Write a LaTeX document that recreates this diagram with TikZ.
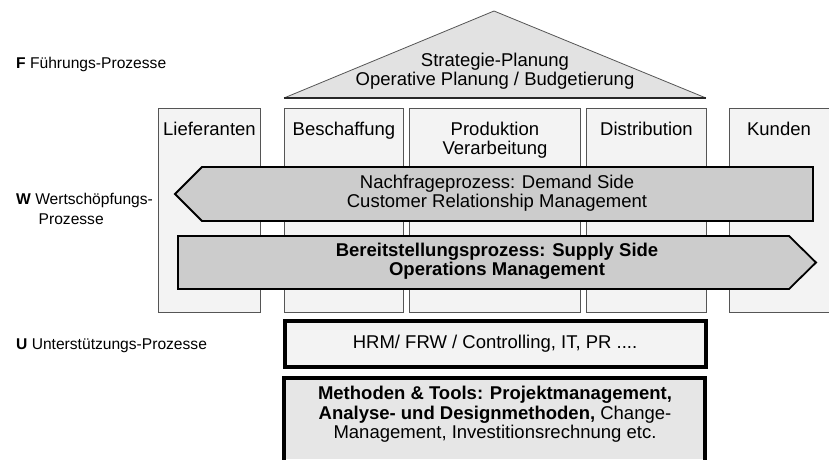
\documentclass[tikz,border=0pt]{standalone}
\usepackage{fontspec}
\setmainfont{Liberation Sans}
\usetikzlibrary{positioning}
\definecolor{roofgray}{RGB}{226,226,226}
\definecolor{colgray}{RGB}{243,243,243}
\definecolor{boxgray}{RGB}{230,230,230}
\definecolor{arrowgray}{RGB}{204,204,204}
\definecolor{edgegray}{RGB}{85,85,85}
\tikzstyle{column}=[draw=edgegray,fill=colgray,line width=0.9pt,anchor=north west,inner sep=0pt]
\tikzstyle{collabel}=[inner sep=0pt,align=center,font=\fontsize{18.5}{19}\selectfont]
\tikzstyle{maintext}=[inner sep=0pt,align=center,font=\fontsize{18.5}{19}\selectfont]
\tikzstyle{sidetext}=[inner sep=0pt,anchor=base west,align=left,font=\fontsize{15.6}{20}\selectfont]
\tikzstyle{process}=[draw=black,line width=1.8pt,fill=arrowgray,line join=miter]

\begin{document}
\begin{tikzpicture}[x=1pt,y=-1pt]
  \useasboundingbox (0,0) rectangle (829,459);

  % roof
  \draw[edgegray,line width=0.8pt,fill=roofgray] (284,98) -- (494,11) -- (706,98);
  \draw[black!85,line width=1.6pt] (284,98) -- (706,98);
  \node[maintext] (roof) at (495,71.5) {Strategie-Planung\\Operative Planung / Budgetierung};

  % columns
  \node[column,minimum width=102pt,minimum height=204pt] (lief) at (158,108) {};
  \node[column,minimum width=119pt,minimum height=204pt] (besch) at (284,108) {};
  \node[column,minimum width=171pt,minimum height=204pt] (prod) at (409,108) {};
  \node[column,minimum width=120pt,minimum height=204pt] (dist) at (586,108) {};
  \fill[colgray] (729,108) rectangle (829,312);
  \draw[edgegray,line width=0.9pt] (829,108) -- (729,108) -- (729,312) -- (829,312);
  \coordinate (kund) at (779,108);

  \node[collabel,below=14pt of lief.north,anchor=north] (lieflabel) {Lieferanten};
  \node[collabel,below=14pt of besch.north,anchor=north] (beschlabel) {Beschaffung};
  \node[collabel,below=14pt of prod.north,anchor=north] (prodlabel) {Produktion\\Verarbeitung};
  \node[collabel,below=14pt of dist.north,anchor=north] (distlabel) {Distribution};
  \node[collabel,below=14pt of kund,anchor=north] (kundlabel) {Kunden};

  % demand side
  \draw[process] (813,167) -- (202,167) -- (175,194) -- (202,221) -- (813,221) -- cycle;
  \node[maintext] (demand) at (497,193.5) {Nachfrageprozess: Demand Side\\Customer Relationship Management};

  % supply side
  \draw[process] (178,236) -- (789,236) -- (816,262.5) -- (789,289) -- (178,289) -- cycle;
  \node[maintext,font=\fontsize{18.5}{19}\selectfont\bfseries] (supply) at (497,261.5) {Bereitstellungsprozess: Supply Side\\Operations Management};

  % support
  \draw[black,line width=4pt,fill=colgray] (285,321) rectangle (705.5,366.5);
  \node[maintext] (hrm) at (495,343.5) {HRM/ FRW / Controlling, IT, PR ....};

  \fill[boxgray] (284,378) rectangle (705,459);
  \draw[black,line width=3.5pt] (284,461) -- (284,378) -- (705,378) -- (705,461);
  \node[maintext,font=\fontsize{18.5}{19.5}\selectfont] (tools) at (495,414.5) {\textbf{Methoden \& Tools: Projektmanagement,}\\\textbf{Analyse- und Designmethoden,} Change-\\Management, Investitionsrechnung etc.};

  % process labels
  \node[sidetext] (fp) at (16,68) {\textbf{F} Führungs-Prozesse};
  \node[sidetext] (wp) at (16,204) {\textbf{W} Wertschöpfungs-};
  \node[sidetext] (wp2) at (38.5,224) {Prozesse};
  \node[sidetext] (up) at (16,349) {\textbf{U} Unterstützungs-Prozesse};

\end{tikzpicture}
\end{document}
